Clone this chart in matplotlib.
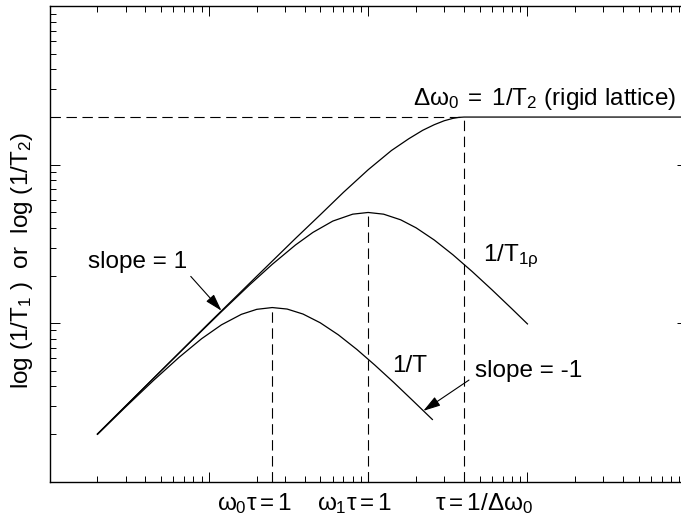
import numpy as np
import matplotlib
matplotlib.use("Agg")
import matplotlib.pyplot as plt
from matplotlib.ticker import LogLocator, NullFormatter
from matplotlib.transforms import blended_transform_factory

plt.rcParams["font.family"] = ["Liberation Sans", "DejaVu Sans"]
plt.rcParams["mathtext.fontset"] = "custom"
plt.rcParams["mathtext.rm"] = "Liberation Sans"
plt.rcParams["mathtext.it"] = "Liberation Sans"
plt.rcParams["mathtext.bf"] = "Liberation Sans:bold"
plt.rcParams["lines.scale_dashes"] = False

# correlation time tau (arb. units) and relaxation rates
tau_t2 = [0.02, 0.05, 0.1, 0.2, 0.35, 0.5, 0.7, 1.0, 1.4, 1.8, 2.2, 2.6, 3.0, 3.4, 3.7, 4.0, 100]
rate_t2 = [0.2, 0.5, 1.0, 1.98, 3.43, 4.83, 6.7, 9.3, 12.3, 14.6, 16.5, 17.9, 18.95, 19.62, 19.9, 20.0, 20.0]

tau_t1rho = [0.02, 0.03, 0.05, 0.08, 0.12, 0.18, 0.25, 0.35, 0.45, 0.6, 0.8, 1.0,
             1.25, 1.6, 2.0, 2.6, 3.4, 4.5, 6.0, 8.0, 10.0]
rate_t1rho = [0.2, 0.3, 0.499, 0.795, 1.183, 1.744, 2.353, 3.118, 3.742, 4.412, 4.878, 5.0,
              4.878, 4.494, 4.0, 3.351, 2.707, 2.118, 1.622, 1.231, 0.99]

tau_t1 = [0.02, 0.03, 0.045, 0.065, 0.09, 0.12, 0.16, 0.2, 0.25, 0.31, 0.39, 0.5,
          0.65, 0.85, 1.1, 1.45, 1.9, 2.53]
rate_t1 = [0.199, 0.296, 0.436, 0.609, 0.798, 0.977, 1.138, 1.224, 1.256, 1.229, 1.143, 1.007,
           0.845, 0.683, 0.545, 0.4225, 0.326, 0.247]

# characteristic points
tau_w0 = 0.25        # omega_0 tau = 1
tau_w1 = 1.0         # omega_1 tau = 1
tau_rigid = 4.0      # tau = 1/delta omega_0
rate_rigid = 20.0    # 1/T2 in the rigid lattice

fig = plt.figure(figsize=(6.81, 5.24), dpi=100)
ax = fig.add_axes([0.0727, 0.0807, 0.9358, 0.9073])
ax.set_xscale("log")
ax.set_yscale("log")
ax.set_xlim(0.01, 100)
ax.set_ylim(0.1, 100)

lw = 0.9
ax.plot(tau_t2, rate_t2, color="black", lw=lw)
ax.plot(tau_t1rho, rate_t1rho, color="black", lw=lw)
ax.plot(tau_t1, rate_t1, color="black", lw=lw)

dash = (0, (7.5, 4))
ax.plot([0.01, tau_rigid], [rate_rigid, rate_rigid], color="black", lw=0.8, ls=dash)
ax.plot([tau_w0, tau_w0], [0.1, max(rate_t1)], color="black", lw=0.8, ls=dash)
ax.plot([tau_w1, tau_w1], [0.1, max(rate_t1rho)], color="black", lw=0.8, ls=dash)
ax.plot([tau_rigid, tau_rigid], [0.1, rate_rigid], color="black", lw=0.8, ls=dash)

# ticks: log decades, inward on all sides, no numbers
for axis in (ax.xaxis, ax.yaxis):
    axis.set_major_locator(LogLocator(base=10))
    axis.set_minor_locator(LogLocator(base=10, subs=np.arange(2, 10)))
    axis.set_major_formatter(NullFormatter())
    axis.set_minor_formatter(NullFormatter())
ax.tick_params(which="both", direction="in", top=True, right=True, width=0.7)
ax.tick_params(which="major", length=7)
ax.tick_params(which="minor", length=4)
for sp in ax.spines.values():
    sp.set_linewidth(1.0)

fs = 17.5
ax.set_ylabel(r"log (1/T$_1$ )  or  log (1/T$_2$)", fontsize=fs)
ax.yaxis.set_label_coords(-0.022, 0.465)

ax.text(1.92, 24.0, r"$\Delta\omega_0\;=\;1/T_2$ (rigid lattice)", fontsize=fs,
        ha="left", va="baseline")
ax.text(5.27, 2.45, r"$1/T_{1\rho}$", fontsize=fs, ha="left", va="baseline")
ax.text(1.41, 0.489, "1/T", fontsize=fs, ha="left", va="baseline")

ax.annotate("slope = 1", xy=(0.12, 1.2), xytext=(0.0175, 2.245), fontsize=fs,
            ha="left", va="baseline",
            arrowprops=dict(arrowstyle="-|>,head_length=0.6,head_width=0.18",
                            color="black", lw=0.8, shrinkA=1, shrinkB=0,
                            relpos=(1.0, 0.0)))
ax.annotate("slope = -1", xy=(2.22, 0.28), xytext=(4.7, 0.455), fontsize=fs,
            ha="left", va="baseline",
            arrowprops=dict(arrowstyle="-|>,head_length=0.6,head_width=0.18",
                            color="black", lw=0.8, shrinkA=3, shrinkB=0,
                            relpos=(0.0, 0.3)))

# axis captions at the characteristic times
trans = blended_transform_factory(ax.transData, ax.transAxes)
ax.text(0.112, -0.06, r"$\omega_0\tau = 1$", transform=trans, fontsize=fs,
        ha="left", va="baseline")
ax.text(0.476, -0.06, r"$\omega_1\tau = 1$", transform=trans, fontsize=fs,
        ha="left", va="baseline")
ax.text(2.63, -0.06, r"$\tau = 1/\Delta\omega_0$", transform=trans, fontsize=fs,
        ha="left", va="baseline")

fig.savefig("out.png", dpi=100)
